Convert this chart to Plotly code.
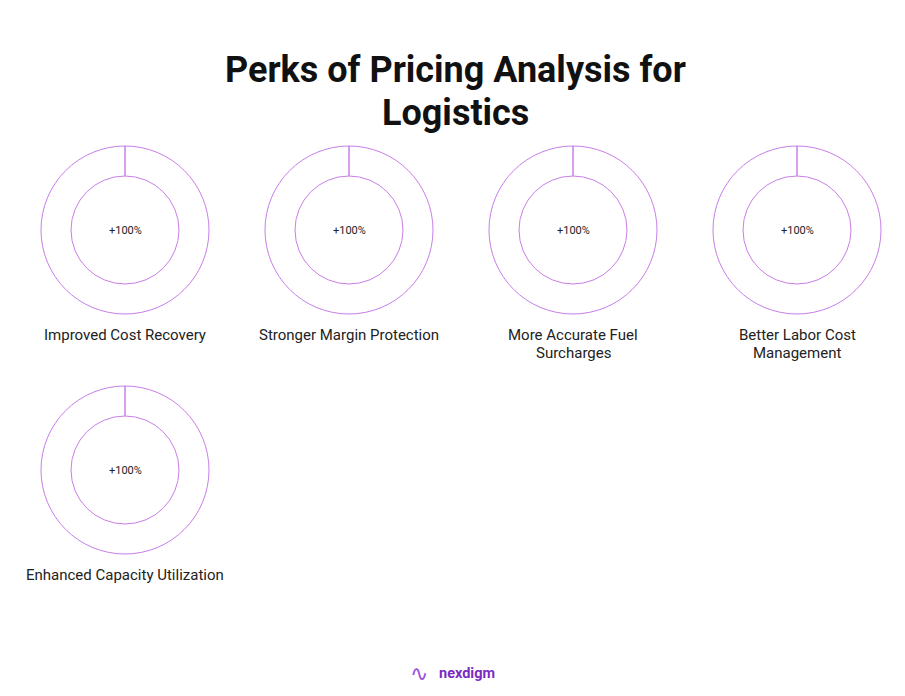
import plotly.graph_objects as go

title_lines = ["Perks of Pricing Analysis for", "Logistics"]
categories = [
    "Improved Cost Recovery",
    "Stronger Margin Protection",
    "More Accurate Fuel<br>Surcharges",
    "Better Labor Cost<br>Management",
    "Enhanced Capacity Utilization",
]
achieved = [100, 100, 100, 100, 100]
remaining = [0, 0, 0, 0, 0]
center_labels = ["+100%", "+100%", "+100%", "+100%", "+100%"]

W, H = 905, 696
ring_color = "#c97ee8"
cols = [125, 349, 573, 797]
rows = [230, 470]
R = 84

fig = go.Figure()
for i, cat in enumerate(categories):
    cx = cols[i % 4]
    cy = rows[i // 4]
    fig.add_trace(go.Pie(
        values=[achieved[i], remaining[i]],
        labels=["Achieved", "Remaining"],
        hole=54 / 84,
        sort=False,
        direction="clockwise",
        rotation=0,
        marker=dict(colors=["white", "white"], line=dict(color=ring_color, width=1)),
        textinfo="none",
        hoverinfo="label+value",
        showlegend=False,
        domain=dict(x=[(cx - R) / W, (cx + R) / W], y=[1 - (cy + R) / H, 1 - (cy - R) / H]),
    ))
    fig.add_annotation(x=cx / W, y=1 - cy / H, xref="paper", yref="paper",
                       xanchor="center", yanchor="middle",
                       text=center_labels[i], showarrow=False,
                       font=dict(family="Roboto", size=11, color="#222222"))
    for j, line in enumerate(cat.split("<br>")):
        fig.add_annotation(x=cx / W, y=1 - (cy + 105 + 18 * j) / H, xref="paper", yref="paper",
                           xanchor="center", yanchor="middle",
                           text=line, showarrow=False,
                           font=dict(family="Roboto", size=15, color="#222222"))

for j, line in enumerate(title_lines):
    fig.add_annotation(x=456 / W, y=1 - (70 + 43 * j) / H, xref="paper", yref="paper",
                       xanchor="center", yanchor="middle",
                       text="<b>" + line + "</b>", showarrow=False,
                       font=dict(family="Roboto", size=36, color="#111111"))
fig.add_annotation(x=437 / W, y=1 - 673 / H, xref="paper", yref="paper",
                   xanchor="left", yanchor="middle",
                   text="<b>nexdigm</b>", showarrow=False,
                   font=dict(family="Roboto", size=14.5, color="#7b2cbf"))
fig.add_annotation(x=419 / W, y=1 - 673 / H, xref="paper", yref="paper",
                   xanchor="center", yanchor="middle",
                   text="∿", showarrow=False,
                   font=dict(family="DejaVu Sans", size=22, color="#9b4fe0"))

fig.update_layout(width=W, height=H, margin=dict(l=0, r=0, t=0, b=0),
                  paper_bgcolor="white", plot_bgcolor="white")
fig.write_html("out.html", config={"displayModeBar": False},
               post_script="document.body.style.margin='0';")
